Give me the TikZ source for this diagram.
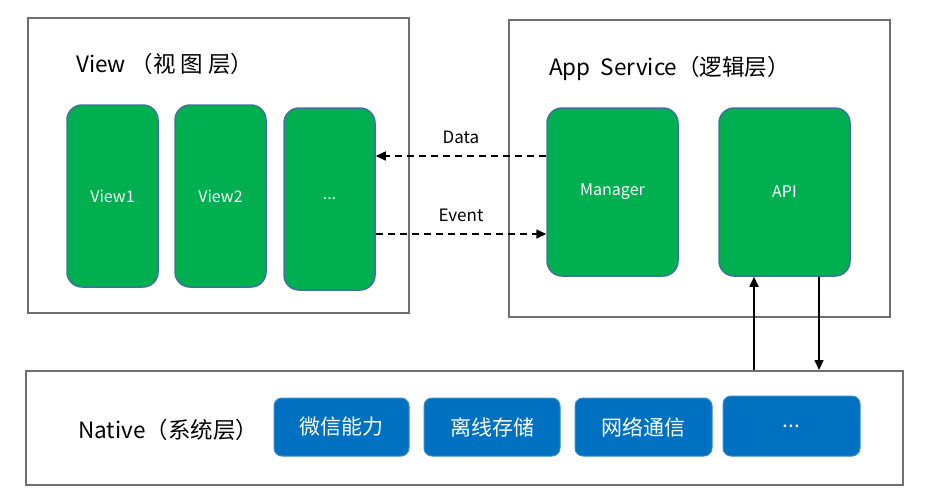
\documentclass[tikz,border=0pt]{standalone}
\usepackage{fontspec}
\setmainfont{Noto Sans CJK SC}
\usepackage{tikz}
\usetikzlibrary{positioning, arrows.meta}
\definecolor{layergray}{HTML}{6F6F6F}
\definecolor{viewgreen}{HTML}{00B050}
\definecolor{nativeblue}{HTML}{0070C0}
\definecolor{edgeblue}{HTML}{41719C}
\tikzset{
	layer/.style={draw=layergray, line width=2pt, rectangle, inner sep=0pt},
	title/.style={anchor=west, inner sep=0pt, font=\fontsize{22.5}{26}\selectfont},
	module/.style={draw=edgeblue, line width=1.5pt, fill=viewgreen, rounded corners=15pt,
		text=white, inner sep=0pt, font=\fontsize{16}{19}\selectfont},
	ability/.style={draw=nativeblue!80!white, line width=1pt, fill=nativeblue, rounded corners=8pt,
		text=white, inner sep=0pt, font=\fontsize{21}{24}\selectfont},
	flow/.style={-{Triangle[length=10pt, width=9pt]}, line width=1.6pt},
	msg/.style={font=\fontsize{17}{20}\selectfont}
}

\begin{document}
\begin{tikzpicture}[x=1pt, y=-1pt]

	\useasboundingbox (0,0) rectangle (925,501);

	\node[layer, minimum width=381pt, minimum height=295pt] (view) at (218.5,165.5) {};
	\node[layer, minimum width=381pt, minimum height=297pt] (app) at (699.5,168.5) {};
	\node[layer, minimum width=877pt, minimum height=114pt] (native) at (464.5,428) {};

	\node[title] (viewtitle) at (76,64) {View\ （视\hspace{5pt}图\hspace{5pt}层）};
	\node[title] (apptitle) at (549,68) {App\ \ Service（逻辑层）};
	\node[title] (nativetitle) at (78,430) {Native（系统层）};

	\node[module, minimum width=91pt, minimum height=182pt] (view1) at (112.5,196) {View1};
	\node[module, minimum width=91pt, minimum height=182pt] (view2) at (220.5,196) {View2};
	\node[module, minimum width=91pt, minimum height=182pt] (viewmore) at (329.5,199) {...};

	\node[module, minimum width=131pt, minimum height=168pt] (manager) at (612.5,192) {Manager};
	\node[module, minimum width=131pt, minimum height=168pt] (api) at (784.5,192) {API};

	\node[ability, minimum width=135pt, minimum height=58pt] (wechat) at (341.5,427) {微信能力};
	\node[ability, minimum width=136pt, minimum height=58pt] (offline) at (492,427) {离线存储};
	\node[ability, minimum width=137pt, minimum height=58pt] (network) at (643.5,427) {网络通信};
	\node[ability, minimum width=137pt, minimum height=60pt] (nativemore) at (791.5,426) {...};

	\coordinate (datay) at (0,156);
	\coordinate (eventy) at (0,234);
	\coordinate (upx) at (754,0);
	\coordinate (downx) at (819,0);

	\draw[flow, dash pattern=on 7pt off 5pt] (manager.west |- datay) -- (viewmore.east |- datay)
		node[msg, midway, above=8pt] {Data};
	\draw[flow, dash pattern=on 7pt off 5pt] (viewmore.east |- eventy) -- (manager.west |- eventy)
		node[msg, midway, above=8pt] {Event};

	\draw[flow] (native.north -| upx) -- (api.south -| upx);
	\draw[flow] (api.south -| downx) -- (native.north -| downx);

\end{tikzpicture}
\end{document}
